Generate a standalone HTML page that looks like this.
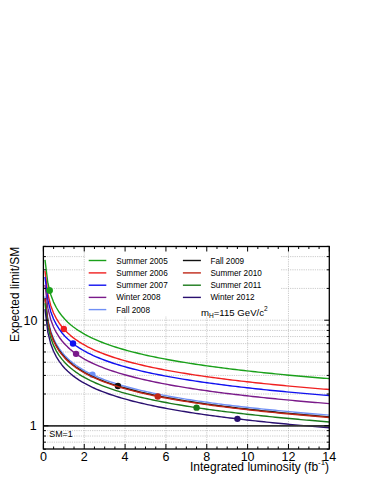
<!DOCTYPE html><html><head><meta charset="utf-8"><style>html,body{margin:0;padding:0;background:#fff}svg{display:block}text{font-family:"Liberation Sans",sans-serif;fill:#000}</style></head><body>
<svg width="374" height="484" viewBox="0 0 374 484">
<rect width="374" height="484" fill="#fff"/>
<path d="M84.24 246.5 V449.0 M125.09 246.5 V449.0 M165.93 246.5 V449.0 M206.77 246.5 V449.0 M247.61 246.5 V449.0 M288.46 246.5 V449.0 M43.4 442.16 H329.3 M43.4 436.03 H329.3 M43.4 430.63 H329.3 M43.4 425.80 H329.3 M43.4 394.01 H329.3 M43.4 375.42 H329.3 M43.4 362.22 H329.3 M43.4 351.99 H329.3 M43.4 343.63 H329.3 M43.4 336.56 H329.3 M43.4 330.43 H329.3 M43.4 325.03 H329.3 M43.4 320.20 H329.3 M43.4 288.41 H329.3 M43.4 269.82 H329.3 M43.4 256.62 H329.3" stroke="#999" stroke-width="0.7" stroke-dasharray="0.7 1.1" fill="none"/>
<rect x="85.2" y="247.2" width="195.8" height="68.8" fill="#fff"/>
<defs><clipPath id="c"><rect x="43.4" y="246.5" width="285.90000000000003" height="202.5"/></clipPath></defs>
<g clip-path="url(#c)" fill="none" stroke-width="1.4" stroke-linejoin="round">
<polyline points="45.01,259.93 47.86,283.22 50.70,294.54 53.54,302.08 56.38,307.75 59.23,312.29 62.07,316.08 64.91,319.33 67.76,322.17 70.60,324.70 73.44,326.98 76.28,329.06 79.13,330.96 81.97,332.71 84.81,334.34 87.66,335.87 90.50,337.29 93.34,338.64 96.18,339.91 99.03,341.11 101.87,342.25 104.71,343.34 107.56,344.38 110.40,345.37 113.24,346.33 116.08,347.24 118.93,348.12 121.77,348.97 124.61,349.79 127.46,350.58 130.30,351.34 133.14,352.08 135.99,352.79 138.83,353.49 141.67,354.16 144.51,354.81 147.36,355.45 150.20,356.07 153.04,356.67 155.89,357.26 158.73,357.83 161.57,358.39 164.41,358.93 167.26,359.46 170.10,359.98 172.94,360.49 175.79,360.99 178.63,361.48 181.47,361.96 184.31,362.42 187.16,362.88 190.00,363.33 192.84,363.77 195.69,364.20 198.53,364.63 201.37,365.04 204.21,365.45 207.06,365.85 209.90,366.25 212.74,366.64 215.59,367.02 218.43,367.39 221.27,367.76 224.11,368.13 226.96,368.49 229.80,368.84 232.64,369.18 235.49,369.53 238.33,369.86 241.17,370.20 244.01,370.52 246.86,370.85 249.70,371.16 252.54,371.48 255.39,371.79 258.23,372.09 261.07,372.39 263.91,372.69 266.76,372.99 269.60,373.28 272.44,373.56 275.29,373.84 278.13,374.12 280.97,374.40 283.81,374.67 286.66,374.94 289.50,375.21 292.34,375.47 295.19,375.73 298.03,375.99 300.87,376.24 303.71,376.50 306.56,376.75 309.40,376.99 312.24,377.24 315.09,377.48 317.93,377.72 320.77,377.95 323.61,378.19 326.46,378.42 329.30,378.65" stroke="#1aa01a"/>
<circle cx="49.53" cy="290.52" r="3.2" fill="#1aa01a" stroke="none"/>
<polyline points="45.01,270.82 47.86,294.12 50.70,305.43 53.54,312.97 56.38,318.64 59.23,323.18 62.07,326.97 64.91,330.22 67.76,333.06 70.60,335.59 73.44,337.87 76.28,339.95 79.13,341.85 81.97,343.60 84.81,345.23 87.66,346.76 90.50,348.19 93.34,349.53 96.18,350.80 99.03,352.00 101.87,353.14 104.71,354.23 107.56,355.27 110.40,356.27 113.24,357.22 116.08,358.13 118.93,359.01 121.77,359.86 124.61,360.68 127.46,361.47 130.30,362.23 133.14,362.97 135.99,363.68 138.83,364.38 141.67,365.05 144.51,365.70 147.36,366.34 150.20,366.96 153.04,367.56 155.89,368.15 158.73,368.72 161.57,369.28 164.41,369.82 167.26,370.36 170.10,370.88 172.94,371.39 175.79,371.88 178.63,372.37 181.47,372.85 184.31,373.31 187.16,373.77 190.00,374.22 192.84,374.66 195.69,375.09 198.53,375.52 201.37,375.93 204.21,376.34 207.06,376.75 209.90,377.14 212.74,377.53 215.59,377.91 218.43,378.29 221.27,378.66 224.11,379.02 226.96,379.38 229.80,379.73 232.64,380.08 235.49,380.42 238.33,380.76 241.17,381.09 244.01,381.41 246.86,381.74 249.70,382.06 252.54,382.37 255.39,382.68 258.23,382.98 261.07,383.29 263.91,383.58 266.76,383.88 269.60,384.17 272.44,384.45 275.29,384.74 278.13,385.02 280.97,385.29 283.81,385.56 286.66,385.83 289.50,386.10 292.34,386.36 295.19,386.62 298.03,386.88 300.87,387.14 303.71,387.39 306.56,387.64 309.40,387.88 312.24,388.13 315.09,388.37 317.93,388.61 320.77,388.84 323.61,389.08 326.46,389.31 329.30,389.54" stroke="#f02020"/>
<circle cx="63.82" cy="329.02" r="3.2" fill="#f02020" stroke="none"/>
<polyline points="45.01,276.83 47.86,300.12 50.70,311.44 53.54,318.98 56.38,324.65 59.23,329.19 62.07,332.98 64.91,336.23 67.76,339.07 70.60,341.60 73.44,343.88 76.28,345.96 79.13,347.86 81.97,349.61 84.81,351.24 87.66,352.77 90.50,354.19 93.34,355.54 96.18,356.81 99.03,358.01 101.87,359.15 104.71,360.24 107.56,361.28 110.40,362.27 113.24,363.23 116.08,364.14 118.93,365.02 121.77,365.87 124.61,366.69 127.46,367.48 130.30,368.24 133.14,368.98 135.99,369.69 138.83,370.38 141.67,371.06 144.51,371.71 147.36,372.35 150.20,372.97 153.04,373.57 155.89,374.16 158.73,374.73 161.57,375.29 164.41,375.83 167.26,376.36 170.10,376.88 172.94,377.39 175.79,377.89 178.63,378.38 181.47,378.86 184.31,379.32 187.16,379.78 190.00,380.23 192.84,380.67 195.69,381.10 198.53,381.53 201.37,381.94 204.21,382.35 207.06,382.75 209.90,383.15 212.74,383.54 215.59,383.92 218.43,384.29 221.27,384.66 224.11,385.03 226.96,385.39 229.80,385.74 232.64,386.08 235.49,386.43 238.33,386.76 241.17,387.10 244.01,387.42 246.86,387.75 249.70,388.06 252.54,388.38 255.39,388.69 258.23,388.99 261.07,389.29 263.91,389.59 266.76,389.89 269.60,390.18 272.44,390.46 275.29,390.74 278.13,391.02 280.97,391.30 283.81,391.57 286.66,391.84 289.50,392.11 292.34,392.37 295.19,392.63 298.03,392.89 300.87,393.14 303.71,393.40 306.56,393.65 309.40,393.89 312.24,394.14 315.09,394.38 317.93,394.62 320.77,394.85 323.61,395.09 326.46,395.32 329.30,395.55" stroke="#1010f0"/>
<circle cx="73.01" cy="343.55" r="3.2" fill="#1010f0" stroke="none"/>
<polyline points="45.01,284.88 47.86,308.18 50.70,319.49 53.54,327.03 56.38,332.70 59.23,337.24 62.07,341.03 64.91,344.28 67.76,347.12 70.60,349.66 73.44,351.93 76.28,354.01 79.13,355.91 81.97,357.67 84.81,359.30 87.66,360.82 90.50,362.25 93.34,363.59 96.18,364.86 99.03,366.06 101.87,367.21 104.71,368.29 107.56,369.33 110.40,370.33 113.24,371.28 116.08,372.20 118.93,373.07 121.77,373.92 124.61,374.74 127.46,375.53 130.30,376.29 133.14,377.03 135.99,377.74 138.83,378.44 141.67,379.11 144.51,379.76 147.36,380.40 150.20,381.02 153.04,381.62 155.89,382.21 158.73,382.78 161.57,383.34 164.41,383.88 167.26,384.42 170.10,384.94 172.94,385.45 175.79,385.94 178.63,386.43 181.47,386.91 184.31,387.38 187.16,387.83 190.00,388.28 192.84,388.72 195.69,389.16 198.53,389.58 201.37,390.00 204.21,390.40 207.06,390.81 209.90,391.20 212.74,391.59 215.59,391.97 218.43,392.35 221.27,392.72 224.11,393.08 226.96,393.44 229.80,393.79 232.64,394.14 235.49,394.48 238.33,394.82 241.17,395.15 244.01,395.48 246.86,395.80 249.70,396.12 252.54,396.43 255.39,396.74 258.23,397.05 261.07,397.35 263.91,397.64 266.76,397.94 269.60,398.23 272.44,398.51 275.29,398.80 278.13,399.08 280.97,399.35 283.81,399.63 286.66,399.90 289.50,400.16 292.34,400.42 295.19,400.69 298.03,400.94 300.87,401.20 303.71,401.45 306.56,401.70 309.40,401.94 312.24,402.19 315.09,402.43 317.93,402.67 320.77,402.90 323.61,403.14 326.46,403.37 329.30,403.60" stroke="#7a1a8a"/>
<circle cx="76.07" cy="353.86" r="3.2" fill="#7a1a8a" stroke="none"/>
<polyline points="45.01,296.38 47.86,319.68 50.70,330.99 53.54,338.53 56.38,344.20 59.23,348.74 62.07,352.53 64.91,355.78 67.76,358.62 70.60,361.15 73.44,363.43 76.28,365.51 79.13,367.41 81.97,369.16 84.81,370.80 87.66,372.32 90.50,373.75 93.34,375.09 96.18,376.36 99.03,377.56 101.87,378.70 104.71,379.79 107.56,380.83 110.40,381.83 113.24,382.78 116.08,383.69 118.93,384.57 121.77,385.42 124.61,386.24 127.46,387.03 130.30,387.79 133.14,388.53 135.99,389.24 138.83,389.94 141.67,390.61 144.51,391.26 147.36,391.90 150.20,392.52 153.04,393.12 155.89,393.71 158.73,394.28 161.57,394.84 164.41,395.38 167.26,395.92 170.10,396.44 172.94,396.95 175.79,397.44 178.63,397.93 181.47,398.41 184.31,398.87 187.16,399.33 190.00,399.78 192.84,400.22 195.69,400.65 198.53,401.08 201.37,401.50 204.21,401.90 207.06,402.31 209.90,402.70 212.74,403.09 215.59,403.47 218.43,403.85 221.27,404.22 224.11,404.58 226.96,404.94 229.80,405.29 232.64,405.64 235.49,405.98 238.33,406.32 241.17,406.65 244.01,406.97 246.86,407.30 249.70,407.62 252.54,407.93 255.39,408.24 258.23,408.54 261.07,408.85 263.91,409.14 266.76,409.44 269.60,409.73 272.44,410.01 275.29,410.30 278.13,410.58 280.97,410.85 283.81,411.12 286.66,411.39 289.50,411.66 292.34,411.92 295.19,412.18 298.03,412.44 300.87,412.70 303.71,412.95 306.56,413.20 309.40,413.44 312.24,413.69 315.09,413.93 317.93,414.17 320.77,414.40 323.61,414.64 326.46,414.87 329.30,415.10" stroke="#6f8ff5"/>
<circle cx="92.41" cy="374.66" r="3.2" fill="#6f8ff5" stroke="none"/>
<polyline points="45.01,298.14 47.86,321.44 50.70,332.75 53.54,340.29 56.38,345.96 59.23,350.50 62.07,354.29 64.91,357.54 67.76,360.38 70.60,362.92 73.44,365.20 76.28,367.27 79.13,369.17 81.97,370.93 84.81,372.56 87.66,374.08 90.50,375.51 93.34,376.85 96.18,378.12 99.03,379.32 101.87,380.47 104.71,381.55 107.56,382.59 110.40,383.59 113.24,384.54 116.08,385.46 118.93,386.34 121.77,387.18 124.61,388.00 127.46,388.79 130.30,389.55 133.14,390.29 135.99,391.01 138.83,391.70 141.67,392.37 144.51,393.03 147.36,393.66 150.20,394.28 153.04,394.88 155.89,395.47 158.73,396.04 161.57,396.60 164.41,397.15 167.26,397.68 170.10,398.20 172.94,398.71 175.79,399.20 178.63,399.69 181.47,400.17 184.31,400.64 187.16,401.09 190.00,401.54 192.84,401.98 195.69,402.42 198.53,402.84 201.37,403.26 204.21,403.67 207.06,404.07 209.90,404.46 212.74,404.85 215.59,405.23 218.43,405.61 221.27,405.98 224.11,406.34 226.96,406.70 229.80,407.05 232.64,407.40 235.49,407.74 238.33,408.08 241.17,408.41 244.01,408.74 246.86,409.06 249.70,409.38 252.54,409.69 255.39,410.00 258.23,410.31 261.07,410.61 263.91,410.91 266.76,411.20 269.60,411.49 272.44,411.78 275.29,412.06 278.13,412.34 280.97,412.61 283.81,412.89 286.66,413.16 289.50,413.42 292.34,413.69 295.19,413.95 298.03,414.20 300.87,414.46 303.71,414.71 306.56,414.96 309.40,415.21 312.24,415.45 315.09,415.69 317.93,415.93 320.77,416.17 323.61,416.40 326.46,416.63 329.30,416.86" stroke="#111111"/>
<circle cx="117.94" cy="386.03" r="3.2" fill="#111111" stroke="none"/>
<polyline points="45.01,298.73 47.86,322.02 50.70,333.34 53.54,340.88 56.38,346.55 59.23,351.09 62.07,354.88 64.91,358.13 67.76,360.97 70.60,363.50 73.44,365.78 76.28,367.86 79.13,369.76 81.97,371.51 84.81,373.14 87.66,374.67 90.50,376.09 93.34,377.44 96.18,378.71 99.03,379.91 101.87,381.05 104.71,382.14 107.56,383.18 110.40,384.18 113.24,385.13 116.08,386.04 118.93,386.92 121.77,387.77 124.61,388.59 127.46,389.38 130.30,390.14 133.14,390.88 135.99,391.59 138.83,392.29 141.67,392.96 144.51,393.61 147.36,394.25 150.20,394.87 153.04,395.47 155.89,396.06 158.73,396.63 161.57,397.19 164.41,397.73 167.26,398.27 170.10,398.79 172.94,399.29 175.79,399.79 178.63,400.28 181.47,400.76 184.31,401.22 187.16,401.68 190.00,402.13 192.84,402.57 195.69,403.00 198.53,403.43 201.37,403.84 204.21,404.25 207.06,404.65 209.90,405.05 212.74,405.44 215.59,405.82 218.43,406.20 221.27,406.56 224.11,406.93 226.96,407.29 229.80,407.64 232.64,407.99 235.49,408.33 238.33,408.66 241.17,409.00 244.01,409.32 246.86,409.65 249.70,409.96 252.54,410.28 255.39,410.59 258.23,410.89 261.07,411.20 263.91,411.49 266.76,411.79 269.60,412.08 272.44,412.36 275.29,412.65 278.13,412.93 280.97,413.20 283.81,413.47 286.66,413.74 289.50,414.01 292.34,414.27 295.19,414.53 298.03,414.79 300.87,415.05 303.71,415.30 306.56,415.55 309.40,415.79 312.24,416.04 315.09,416.28 317.93,416.52 320.77,416.75 323.61,416.99 326.46,417.22 329.30,417.45" stroke="#c02818"/>
<circle cx="157.76" cy="396.44" r="3.2" fill="#c02818" stroke="none"/>
<polyline points="45.01,303.26 47.86,326.56 50.70,337.87 53.54,345.41 56.38,351.08 59.23,355.62 62.07,359.41 64.91,362.66 67.76,365.50 70.60,368.03 73.44,370.31 76.28,372.39 79.13,374.29 81.97,376.04 84.81,377.67 87.66,379.20 90.50,380.63 93.34,381.97 96.18,383.24 99.03,384.44 101.87,385.58 104.71,386.67 107.56,387.71 110.40,388.71 113.24,389.66 116.08,390.57 118.93,391.45 121.77,392.30 124.61,393.12 127.46,393.91 130.30,394.67 133.14,395.41 135.99,396.12 138.83,396.82 141.67,397.49 144.51,398.14 147.36,398.78 150.20,399.40 153.04,400.00 155.89,400.59 158.73,401.16 161.57,401.72 164.41,402.26 167.26,402.80 170.10,403.32 172.94,403.83 175.79,404.32 178.63,404.81 181.47,405.29 184.31,405.75 187.16,406.21 190.00,406.66 192.84,407.10 195.69,407.53 198.53,407.96 201.37,408.37 204.21,408.78 207.06,409.19 209.90,409.58 212.74,409.97 215.59,410.35 218.43,410.73 221.27,411.10 224.11,411.46 226.96,411.82 229.80,412.17 232.64,412.52 235.49,412.86 238.33,413.20 241.17,413.53 244.01,413.85 246.86,414.18 249.70,414.50 252.54,414.81 255.39,415.12 258.23,415.42 261.07,415.73 263.91,416.02 266.76,416.32 269.60,416.61 272.44,416.89 275.29,417.18 278.13,417.46 280.97,417.73 283.81,418.00 286.66,418.27 289.50,418.54 292.34,418.80 295.19,419.06 298.03,419.32 300.87,419.58 303.71,419.83 306.56,420.08 309.40,420.32 312.24,420.57 315.09,420.81 317.93,421.05 320.77,421.28 323.61,421.52 326.46,421.75 329.30,421.98" stroke="#1a7a1a"/>
<circle cx="196.56" cy="407.67" r="3.2" fill="#1a7a1a" stroke="none"/>
<polyline points="45.01,309.05 47.86,332.34 50.70,343.66 53.54,351.20 56.38,356.87 59.23,361.41 62.07,365.20 64.91,368.45 67.76,371.29 70.60,373.82 73.44,376.10 76.28,378.18 79.13,380.08 81.97,381.83 84.81,383.46 87.66,384.99 90.50,386.41 93.34,387.76 96.18,389.03 99.03,390.23 101.87,391.37 104.71,392.46 107.56,393.50 110.40,394.49 113.24,395.45 116.08,396.36 118.93,397.24 121.77,398.09 124.61,398.91 127.46,399.70 130.30,400.46 133.14,401.20 135.99,401.91 138.83,402.61 141.67,403.28 144.51,403.93 147.36,404.57 150.20,405.19 153.04,405.79 155.89,406.38 158.73,406.95 161.57,407.51 164.41,408.05 167.26,408.58 170.10,409.10 172.94,409.61 175.79,410.11 178.63,410.60 181.47,411.08 184.31,411.54 187.16,412.00 190.00,412.45 192.84,412.89 195.69,413.32 198.53,413.75 201.37,414.16 204.21,414.57 207.06,414.97 209.90,415.37 212.74,415.76 215.59,416.14 218.43,416.51 221.27,416.88 224.11,417.25 226.96,417.61 229.80,417.96 232.64,418.31 235.49,418.65 238.33,418.98 241.17,419.32 244.01,419.64 246.86,419.97 249.70,420.28 252.54,420.60 255.39,420.91 258.23,421.21 261.07,421.51 263.91,421.81 266.76,422.11 269.60,422.40 272.44,422.68 275.29,422.96 278.13,423.24 280.97,423.52 283.81,423.79 286.66,424.06 289.50,424.33 292.34,424.59 295.19,424.85 298.03,425.11 300.87,425.36 303.71,425.62 306.56,425.87 309.40,426.11 312.24,426.36 315.09,426.60 317.93,426.84 320.77,427.07 323.61,427.31 326.46,427.54 329.30,427.77" stroke="#2a1070"/>
<circle cx="237.40" cy="418.87" r="3.2" fill="#2a1070" stroke="none"/>
<circle cx="49.53" cy="290.52" r="3.2" fill="#1aa01a" stroke="none"/>
</g>
<path d="M43.4 425.8 H329.3" stroke="#333" stroke-width="1.7"/>
<rect x="43.4" y="246.5" width="285.90000000000003" height="202.5" fill="none" stroke="#000" stroke-width="1.3"/>
<path d="M43.40 449.0 v-5 M43.40 246.5 v5 M53.61 449.0 v-2.5 M53.61 246.5 v2.5 M63.82 449.0 v-2.5 M63.82 246.5 v2.5 M74.03 449.0 v-2.5 M74.03 246.5 v2.5 M84.24 449.0 v-5 M84.24 246.5 v5 M94.45 449.0 v-2.5 M94.45 246.5 v2.5 M104.66 449.0 v-2.5 M104.66 246.5 v2.5 M114.88 449.0 v-2.5 M114.88 246.5 v2.5 M125.09 449.0 v-5 M125.09 246.5 v5 M135.30 449.0 v-2.5 M135.30 246.5 v2.5 M145.51 449.0 v-2.5 M145.51 246.5 v2.5 M155.72 449.0 v-2.5 M155.72 246.5 v2.5 M165.93 449.0 v-5 M165.93 246.5 v5 M176.14 449.0 v-2.5 M176.14 246.5 v2.5 M186.35 449.0 v-2.5 M186.35 246.5 v2.5 M196.56 449.0 v-2.5 M196.56 246.5 v2.5 M206.77 449.0 v-5 M206.77 246.5 v5 M216.98 449.0 v-2.5 M216.98 246.5 v2.5 M227.19 449.0 v-2.5 M227.19 246.5 v2.5 M237.40 449.0 v-2.5 M237.40 246.5 v2.5 M247.61 449.0 v-5 M247.61 246.5 v5 M257.82 449.0 v-2.5 M257.82 246.5 v2.5 M268.04 449.0 v-2.5 M268.04 246.5 v2.5 M278.25 449.0 v-2.5 M278.25 246.5 v2.5 M288.46 449.0 v-5 M288.46 246.5 v5 M298.67 449.0 v-2.5 M298.67 246.5 v2.5 M308.88 449.0 v-2.5 M308.88 246.5 v2.5 M319.09 449.0 v-2.5 M319.09 246.5 v2.5 M329.30 449.0 v-5 M329.30 246.5 v5 M43.4 449.23 h2.5 M329.3 449.23 h-2.5 M43.4 442.16 h2.5 M329.3 442.16 h-2.5 M43.4 436.03 h2.5 M329.3 436.03 h-2.5 M43.4 430.63 h2.5 M329.3 430.63 h-2.5 M43.4 425.80 h5 M329.3 425.80 h-5 M43.4 394.01 h2.5 M329.3 394.01 h-2.5 M43.4 375.42 h2.5 M329.3 375.42 h-2.5 M43.4 362.22 h2.5 M329.3 362.22 h-2.5 M43.4 351.99 h2.5 M329.3 351.99 h-2.5 M43.4 343.63 h2.5 M329.3 343.63 h-2.5 M43.4 336.56 h2.5 M329.3 336.56 h-2.5 M43.4 330.43 h2.5 M329.3 330.43 h-2.5 M43.4 325.03 h2.5 M329.3 325.03 h-2.5 M43.4 320.20 h5 M329.3 320.20 h-5 M43.4 288.41 h2.5 M329.3 288.41 h-2.5 M43.4 269.82 h2.5 M329.3 269.82 h-2.5 M43.4 256.62 h2.5 M329.3 256.62 h-2.5 M43.4 246.39 h2.5 M329.3 246.39 h-2.5" stroke="#000" stroke-width="1" fill="none"/>
<text x="43.40" y="461.3" font-size="12.5" text-anchor="middle">0</text>
<text x="84.24" y="461.3" font-size="12.5" text-anchor="middle">2</text>
<text x="125.09" y="461.3" font-size="12.5" text-anchor="middle">4</text>
<text x="165.93" y="461.3" font-size="12.5" text-anchor="middle">6</text>
<text x="206.77" y="461.3" font-size="12.5" text-anchor="middle">8</text>
<text x="247.61" y="461.3" font-size="12.5" text-anchor="middle">10</text>
<text x="288.46" y="461.3" font-size="12.5" text-anchor="middle">12</text>
<text x="329.30" y="461.3" font-size="12.5" text-anchor="middle">14</text>
<text x="37.5" y="324.50" font-size="12.5" text-anchor="end">10</text>
<text x="36.8" y="430.40" font-size="12.5" text-anchor="end">1</text>
<text x="49.3" y="437.3" font-size="8.85">SM=1</text>
<text x="190" y="470.7" font-size="12">Integrated luminosity (fb<tspan dy="-5.6" font-size="7.8">-1</tspan><tspan dy="5.6">)</tspan></text>
<text transform="translate(18.7,342) rotate(-90)" font-size="11.9">Expected limit/SM</text>
<path d="M88.7 260.5 H106.3" stroke="#1aa01a" stroke-width="1.4"/>
<text x="116.3" y="263.5" font-size="8.2">Summer 2005</text>
<path d="M88.7 272.9 H106.3" stroke="#f02020" stroke-width="1.4"/>
<text x="116.3" y="275.9" font-size="8.2">Summer 2006</text>
<path d="M88.7 285.2 H106.3" stroke="#1010f0" stroke-width="1.4"/>
<text x="116.3" y="288.2" font-size="8.2">Summer 2007</text>
<path d="M88.7 297.4 H106.3" stroke="#7a1a8a" stroke-width="1.4"/>
<text x="116.3" y="300.4" font-size="8.2">Winter 2008</text>
<path d="M88.7 309.6 H106.3" stroke="#6f8ff5" stroke-width="1.4"/>
<text x="116.3" y="312.6" font-size="8.2">Fall 2008</text>
<path d="M182.9 260.5 H200.9" stroke="#111111" stroke-width="1.4"/>
<text x="210.4" y="263.5" font-size="8.2">Fall 2009</text>
<path d="M182.9 272.9 H200.9" stroke="#c02818" stroke-width="1.4"/>
<text x="210.4" y="275.9" font-size="8.2">Summer 2010</text>
<path d="M182.9 285.2 H200.9" stroke="#1a7a1a" stroke-width="1.4"/>
<text x="210.4" y="288.2" font-size="8.2">Summer 2011</text>
<path d="M182.9 297.4 H200.9" stroke="#2a1070" stroke-width="1.4"/>
<text x="210.4" y="300.4" font-size="8.2">Winter 2012</text>
<text x="201" y="315.6" font-size="9.6">m<tspan dy="2.4" font-size="6.6">H</tspan><tspan dy="-2.4">=115 GeV/c</tspan><tspan dy="-4.3" font-size="6.6">2</tspan></text>
</svg></body></html>
